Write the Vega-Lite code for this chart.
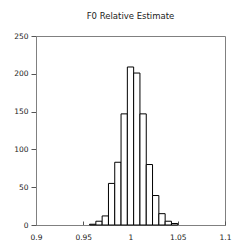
{
  "$schema": "https://vega.github.io/schema/vega-lite/v6.json",
  "autosize": "none",
  "width": 189,
  "height": 189,
  "padding": {"left": 36, "top": 36, "right": 16, "bottom": 24},
  "background": "white",
  "title": {"text": "F0 Relative Estimate", "fontSize": 8.5, "font": "DejaVu Sans", "fontWeight": "normal", "color": "#222", "offset": 5, "baseline": "alphabetic"},
  "data": {"values": [
    {"start": 0.95667, "end": 0.96333, "count": 1},
    {"start": 0.96333, "end": 0.97, "count": 5},
    {"start": 0.97, "end": 0.97667, "count": 12},
    {"start": 0.97667, "end": 0.98333, "count": 55},
    {"start": 0.98333, "end": 0.99, "count": 83},
    {"start": 0.99, "end": 0.99667, "count": 147},
    {"start": 0.99667, "end": 1.00333, "count": 209},
    {"start": 1.00333, "end": 1.01, "count": 201},
    {"start": 1.01, "end": 1.01667, "count": 147},
    {"start": 1.01667, "end": 1.02333, "count": 80},
    {"start": 1.02333, "end": 1.03, "count": 39},
    {"start": 1.03, "end": 1.03667, "count": 15},
    {"start": 1.03667, "end": 1.04333, "count": 5},
    {"start": 1.04333, "end": 1.05, "count": 2}
  ]},
  "mark": {"type": "rect", "fill": "white", "stroke": "#000", "strokeWidth": 1},
  "encoding": {
    "x": {"field": "start", "type": "quantitative", "scale": {"domain": [0.9, 1.1], "nice": false, "zero": false},
      "axis": {"title": null, "values": [0.9, 0.95, 1, 1.05, 1.1], "format": "~g", "grid": false, "tickSize": -4, "tickColor": "#555", "labelPadding": 12, "labelFont": "DejaVu Sans", "labelFontSize": 7.5, "labelColor": "#222", "domainColor": "#808080", "labelFlush": false}},
    "x2": {"field": "end"},
    "y": {"field": "count", "type": "quantitative", "scale": {"domain": [0, 250], "nice": false},
      "axis": {"title": null, "values": [0, 50, 100, 150, 200, 250], "grid": false, "tickSize": 5, "tickColor": "#555", "labelPadding": 3, "labelFont": "DejaVu Sans", "labelFontSize": 7.5, "labelColor": "#222", "domainColor": "#808080"}},
    "y2": {"datum": 0}
  },
  "config": {"view": {"stroke": "#808080", "strokeWidth": 1}}
}
